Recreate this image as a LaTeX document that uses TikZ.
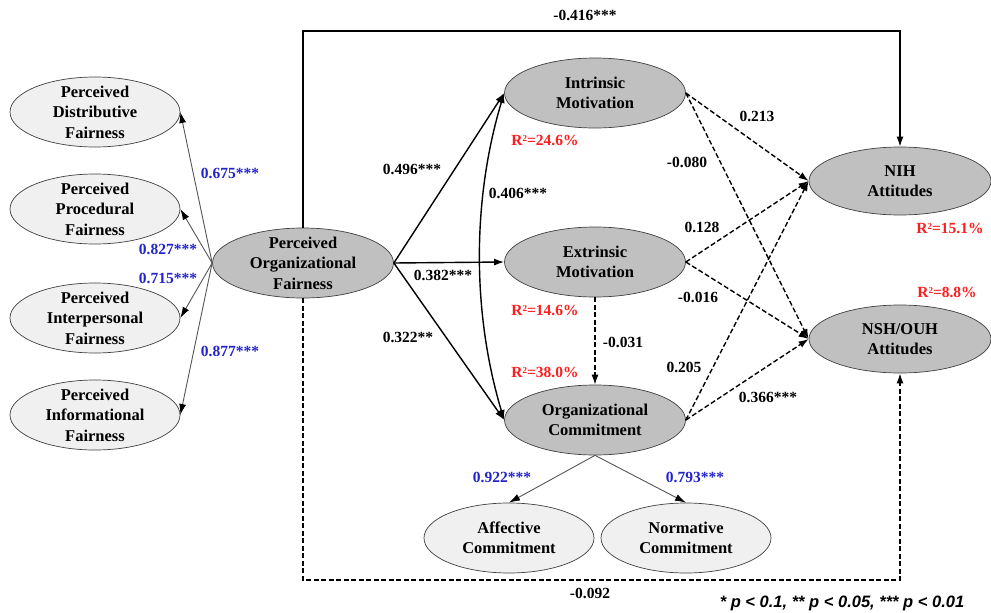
\documentclass[tikz,border=0pt]{standalone}
\usepackage{fontspec}
\setmainfont{Liberation Serif}
\newfontfamily\footfont{Liberation Sans}
\usetikzlibrary{shapes.geometric,arrows.meta}
\definecolor{darkfill}{RGB}{192,192,192}
\definecolor{lightfill}{RGB}{240,240,240}
\definecolor{lblblue}{RGB}{35,35,205}
\definecolor{lblred}{RGB}{255,30,30}
\definecolor{indgray}{RGB}{85,85,85}
\newcommand{\rsq}{R\raisebox{0.45ex}{\fontsize{9}{9}\selectfont 2}}
\begin{document}
\begin{tikzpicture}[x=1pt,y=-1pt,
  ell/.style={ellipse, draw=black!75, line width=0.7pt, inner sep=0pt},
  latent/.style={ell, fill=darkfill, minimum width=181pt, minimum height=70pt},
  indic/.style={ell, fill=lightfill, minimum width=170pt, minimum height=70pt},
  txt/.style={align=center, inner sep=0pt, font=\bfseries\fontsize{16.5}{20.5}\selectfont},
  lbl/.style={inner sep=0pt, font=\bfseries\fontsize{15.5}{18}\selectfont},
  blbl/.style={lbl, text=lblblue},
  rlbl/.style={lbl, text=lblred},
  sarr/.style={line width=1.4pt, -{Latex[length=10pt,width=7pt]}},
  darr/.style={sarr, dash pattern=on 5pt off 2.5pt},
  iarr/.style={draw=indgray, line width=0.9pt, -{Latex[length=11pt,width=7pt,color=black]}}
]
\useasboundingbox (0,0) rectangle (991,613);

% indicator ellipses (left)
\node[indic] (dist) at (95,112) {};
\node[txt] (dist-t) at (dist) {Perceived\\Distributive\\Fairness};
\node[indic] (proc) at (95,209) {};
\node[txt] (proc-t) at (proc) {Perceived\\Procedural\\Fairness};
\node[indic] (inter) at (95,318) {};
\node[txt] (inter-t) at (inter) {Perceived\\Interpersonal\\Fairness};
\node[indic] (info) at (95,415) {};
\node[txt] (info-t) at (info) {Perceived\\Informational\\Fairness};

% latent constructs
\node[latent] (pof) at (303,263) {};
\node[txt] (pof-t) at (pof) {Perceived\\Organizational\\Fairness};
\node[latent] (im) at (595,93) {};
\node[txt] (im-t) at (im) {Intrinsic\\Motivation};
\node[latent] (em) at (595,262) {};
\node[txt] (em-t) at (em) {Extrinsic\\Motivation};
\node[latent] (oc) at (595,420) {};
\node[txt] (oc-t) at (oc) {Organizational\\Commitment};
\node[latent, minimum width=182pt, minimum height=68pt] (nih) at (900,181) {};
\node[txt] (nih-t) at (nih) {NIH\\Attitudes};
\node[latent, minimum width=182pt, minimum height=68pt] (nsh) at (900,339) {};
\node[txt] (nsh-t) at (nsh) {NSH/OUH\\Attitudes};

% commitment indicators
\node[indic] (aff) at (509,538) {};
\node[txt] (aff-t) at (aff) {Affective\\Commitment};
\node[indic] (norm) at (686,538) {};
\node[txt] (norm-t) at (norm) {Normative\\Commitment};

% measurement arrows
\draw[iarr] (pof.west) -- (dist.east);
\draw[iarr] (pof.west) -- (proc.east);
\draw[iarr] (pof.west) -- (inter.east);
\draw[iarr] (pof.west) -- (info.east);
\draw[iarr] (oc.south) -- (aff.north);
\draw[iarr] (oc.south) -- (norm.north);

% structural paths
\draw[sarr] (pof.east) -- (im.west);
\draw[sarr] (pof.east) -- (em.west);
\draw[sarr] (pof.east) -- (oc.west);
\draw[line width=1.4pt, {Latex[length=10pt,width=7pt]}-{Latex[length=10pt,width=7pt]}]
  (im.west) .. controls (472,200) and (472,313) .. (oc.west);
\draw[darr] (em.south) -- (oc.north);
\draw[darr] (im.east) -- (nih.west);
\draw[darr] (im.east) -- (nsh.west);
\draw[darr] (em.east) -- (nih.west);
\draw[darr] (em.east) -- (nsh.west);
\draw[darr] (oc.east) -- (nih.west);
\draw[darr] (oc.east) -- (nsh.west);

% direct effects
\coordinate (tl) at (303,31);
\coordinate (tr) at (900,31);
\draw[line width=1.4pt, -{Latex[length=10pt,width=7pt]}] (pof.north) -- (tl) -- (tr) -- (nih.north);
\coordinate (bl) at (303,580);
\coordinate (br) at (900,580);
\draw[line width=1.4pt, dash pattern=on 5pt off 2.5pt, -{Latex[length=10pt,width=7pt]}] (pof.south) -- (bl) -- (br) -- (nsh.south);

% labels
\node[lbl] (l1) at (585,15) {-0.416***};
\node[lbl] (l2) at (590,593) {-0.092};
\node[blbl] (b1) at (230,173) {0.675***};
\node[blbl] (b2) at (168,249) {0.827***};
\node[blbl] (b3) at (168,278) {0.715***};
\node[blbl] (b4) at (230,351) {0.877***};
\node[blbl] (b5) at (502,477) {0.922***};
\node[blbl] (b6) at (695,477) {0.793***};
\node[lbl] (l3) at (412,169) {0.496***};
\node[lbl] (l4) at (518,193) {0.406***};
\node[lbl] (l5) at (443,275) {0.382***};
\node[lbl] (l6) at (408,337) {0.322**};
\node[lbl] (l7) at (623,342) {-0.031};
\node[lbl] (l8) at (757,116) {0.213};
\node[lbl] (l9) at (687,162) {-0.080};
\node[lbl] (l10) at (702,227) {0.128};
\node[lbl] (l11) at (698,297) {-0.016};
\node[lbl] (l12) at (684,367) {0.205};
\node[lbl] (l13) at (768,397) {0.366***};
\node[rlbl] (r1) at (545,140) {\rsq=24.6\%};
\node[rlbl] (r2) at (545,310) {\rsq=14.6\%};
\node[rlbl] (r3) at (545,372) {\rsq=38.0\%};
\node[rlbl] (r4) at (950,228) {\rsq=15.1\%};
\node[rlbl] (r5) at (947,292) {\rsq=8.8\%};
\node[inner sep=0pt, font=\footfont\bfseries\itshape\fontsize{16.5}{18}\selectfont] (foot) at (842,603)
  {* p < 0.1, ** p < 0.05, *** p < 0.01};
\end{tikzpicture}
\end{document}
